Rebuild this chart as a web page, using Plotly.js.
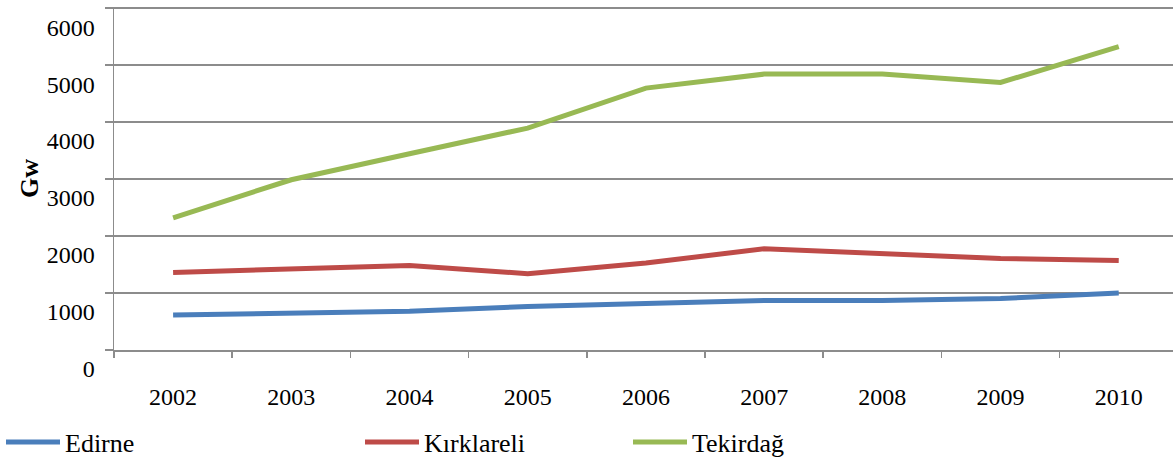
<!DOCTYPE html>
<html>
<head>
<meta charset="utf-8">
<script src="https://cdn.plot.ly/plotly-3.0.1.min.js"></script>
<style>html,body{margin:0;padding:0;background:#fff;}#chart{width:1173px;height:457px;}</style>
</head>
<body>
<div id="chart"></div>
<script>
var years = ["2002","2003","2004","2005","2006","2007","2008","2009","2010"];
var edirne = [614, 643, 678, 765, 824, 870, 870, 905, 1000];
var kirklareli = [1361, 1421, 1484, 1339, 1526, 1777, 1689, 1607, 1572];
var tekirdag = [2321, 2988, 3444, 3895, 4596, 4842, 4842, 4695, 5326];
var yTickVals = [0, 1000, 2000, 3000, 4000, 5000, 6000];
var yTickText = ["0", "1000", "2000", "3000", "4000", "5000", "6000"];
var seriesNames = ["Edirne", "Kırklareli", "Tekirdağ"];
var yTitle = "Gw";

var font = "Liberation Serif, Times New Roman, serif";
var colors = ["#4A7EBB", "#BE4B48", "#98B954"];
var series = [edirne, kirklareli, tekirdag];
var legends = ["legend", "legend2", "legend3"];

var traces = series.map(function (s, i) {
  return {
    x: years, y: s, type: "scatter", mode: "lines", name: seriesNames[i],
    line: {color: colors[i], width: 5}, legend: legends[i]
  };
});

function leg(px) {
  return {
    x: (px - 114) / 1059, xanchor: "left", xref: "paper",
    y: 1 - 442 / 457, yref: "container", yanchor: "middle",
    orientation: "h", font: {family: font, size: 26, color: "#000"},
    bgcolor: "rgba(0,0,0,0)", borderwidth: 0, itemwidth: 54, tracegroupgap: 0
  };
}

var layout = {
  width: 1173, height: 457,
  margin: {l: 114, r: 0, t: 7, b: 107, pad: 0},
  paper_bgcolor: "#fff", plot_bgcolor: "#fff",
  showlegend: true,
  font: {family: font, size: 24, color: "#000"},
  xaxis: {
    type: "category", range: [-0.5, 8.459], tickson: "boundaries",
    ticks: "outside", ticklen: 6, tickwidth: 1.5, tickcolor: "#8c8c8c",
    showline: true, linecolor: "#8c8c8c", linewidth: 1.5,
    showgrid: false, zeroline: false, automargin: false,
    tickfont: {family: font, size: 24, color: "#000"},
    ticklabelstandoff: 25
  },
  yaxis: {
    range: [0, 6020], tickvals: yTickVals, ticktext: yTickText,
    ticks: "outside", ticklen: 8, tickwidth: 1.5, tickcolor: "#8c8c8c",
    showline: true, linecolor: "#8c8c8c", linewidth: 1.5,
    showgrid: true, gridcolor: "#8c8c8c", gridwidth: 1.4, zeroline: false,
    automargin: false,
    tickfont: {family: font, size: 24, color: "#000"},
    ticklabelstandoff: 5, ticklabelshift: 19,
    title: {text: "<b>" + yTitle + "</b>", font: {family: font, size: 26, color: "#000"}, standoff: 0}
  },
  legend: leg(1),
  legend2: leg(360),
  legend3: leg(628)
};

Plotly.newPlot("chart", traces, layout, {displayModeBar: false, staticPlot: true});
</script>
</body>
</html>
